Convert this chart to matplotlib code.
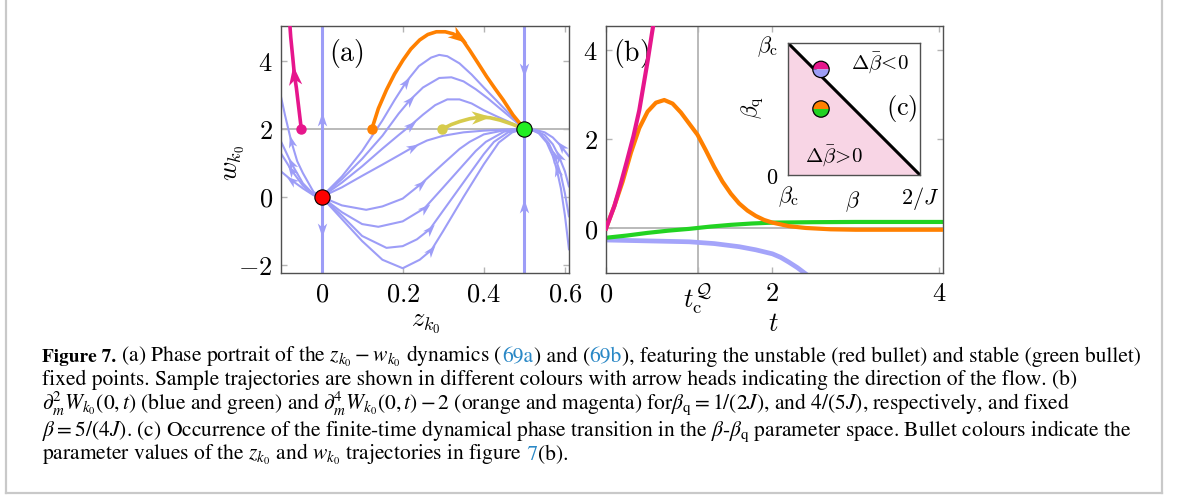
import numpy as np
import matplotlib
matplotlib.use('Agg')
import matplotlib.pyplot as plt
from matplotlib.patches import Wedge, Circle, Polygon
from matplotlib.lines import Line2D
from matplotlib.path import Path
from matplotlib.markers import MarkerStyle
from matplotlib.transforms import Affine2D

# ---- panel (a): phase portrait, curves listed in flow direction (z, w) ----
mid_curves = [
    [(0, 0), (0.05, -0.65), (0.1, -1.3), (0.15, -1.85), (0.2, -2.1), (0.242, -1.85), (0.271, -1.56),
     (0.3, -1.0), (0.35, 0.0), (0.4, 0.96), (0.437, 1.6), (0.47, 1.9), (0.5, 2.0)],
    [(0, 0), (0.05, -0.55), (0.1, -1.15), (0.16, -1.5), (0.2, -1.45), (0.235, -1.25), (0.267, -0.95),
     (0.3, -0.4), (0.35, 0.43), (0.4, 1.26), (0.425, 1.62), (0.46, 1.9), (0.5, 2.0)],
    [(0, 0), (0.05, -0.45), (0.1, -0.8), (0.14, -0.88), (0.2, -0.72), (0.254, -0.33), (0.3, 0.28),
     (0.35, 0.95), (0.38, 1.35), (0.405, 1.62), (0.45, 1.92), (0.5, 2.0)],
    [(0, 0), (0.05, -0.25), (0.11, -0.38), (0.15, -0.28), (0.2, -0.05), (0.245, 0.38), (0.3, 0.98),
     (0.34, 1.41), (0.365, 1.62), (0.4, 1.84), (0.45, 1.96), (0.5, 2.0)],
    [(0, 0), (0.05, 0.28), (0.1, 0.62), (0.15, 0.95), (0.19, 1.22), (0.225, 1.46), (0.26, 1.66),
     (0.3, 1.8), (0.35, 1.9), (0.4, 1.95), (0.45, 1.98), (0.5, 2.0)],
    [(0, 0), (0.05, 0.42), (0.1, 0.9), (0.15, 1.42), (0.19, 1.82), (0.221, 2.12), (0.25, 2.42),
     (0.28, 2.7), (0.31, 2.87), (0.34, 2.87), (0.37, 2.75), (0.4, 2.55), (0.43, 2.38), (0.46, 2.22), (0.5, 2.0)],
    [(0, 0), (0.05, 0.52), (0.1, 1.12), (0.15, 1.8), (0.19, 2.45), (0.218, 2.85), (0.25, 3.22),
     (0.29, 3.5), (0.32, 3.52), (0.35, 3.4), (0.38, 3.17), (0.41, 2.9), (0.44, 2.6), (0.47, 2.3), (0.5, 2.0)],
    [(0, 0), (0.05, 0.6), (0.1, 1.35), (0.15, 2.25), (0.18, 2.85), (0.209, 3.39), (0.24, 3.85),
     (0.27, 4.1), (0.29, 4.18), (0.31, 4.14), (0.34, 3.93), (0.37, 3.6), (0.4, 3.22), (0.43, 2.85),
     (0.46, 2.48), (0.5, 2.0)],
]
mid_arrow_idx = [6, 6, 5, 5, 5, 5, 5, 5]

left_curves = [
    [(0, 0), (-0.02, 0.15), (-0.046, 0.7), (-0.06, 1.05), (-0.075, 1.65), (-0.09, 2.4), (-0.1, 2.95)],
    [(0, 0), (-0.02, 0.08), (-0.046, 0.4), (-0.075, 1.0), (-0.1, 1.63)],
    [(0, 0), (-0.02, 0.07), (-0.046, 0.33), (-0.075, 0.8), (-0.1, 1.28)],
    [(0, 0), (-0.02, 0.05), (-0.046, 0.25), (-0.075, 0.5), (-0.1, 0.75)],
]
left_arrow_idx = [4, 3, 3, 3]

right_curves = [
    [(0.61, 1.19), (0.59, 1.5), (0.57, 1.75), (0.55, 1.9), (0.525, 1.98), (0.5, 2.0)],
    [(0.61, 0.3), (0.6, 0.75), (0.585, 1.2), (0.57, 1.55), (0.55, 1.82), (0.525, 1.96), (0.5, 2.0)],
    [(0.61, -0.58), (0.6, 0.1), (0.59, 0.65), (0.575, 1.2), (0.56, 1.58), (0.54, 1.85), (0.52, 1.97), (0.5, 2.0)],
    [(0.61, -1.55), (0.6, -0.55), (0.59, 0.25), (0.58, 0.8), (0.57, 1.2), (0.555, 1.6), (0.535, 1.88),
     (0.515, 1.98), (0.5, 2.0)],
]
right_arrow_idx = [1, 2, 3, 3]

invariant_z = [0, 0.5]
invariant_arrows = [(0, 2.3, 1), (0, -0.97, -1), (0.5, 3.73, -1), (0.5, -0.28, 1)]

magenta_a = [(-0.05, 2.0), (-0.056, 2.6), (-0.062, 3.2), (-0.067, 3.6), (-0.071, 4.1), (-0.076, 4.7), (-0.079, 5.2)]
orange_a = [(0.124, 2.0), (0.14, 2.6), (0.16, 3.15), (0.18, 3.62), (0.201, 4.03), (0.22, 4.35), (0.242, 4.62),
            (0.262, 4.78), (0.283, 4.86), (0.305, 4.86), (0.324, 4.8), (0.34, 4.7), (0.35, 4.58), (0.365, 4.32),
            (0.385, 3.95), (0.407, 3.54), (0.428, 3.18), (0.448, 2.85), (0.472, 2.41), (0.5, 2.0)]
yellow_a = [(0.298, 2.0), (0.32, 2.13), (0.341, 2.22), (0.365, 2.3), (0.392, 2.35), (0.415, 2.33),
            (0.44, 2.26), (0.47, 2.14), (0.5, 2.0)]
fixed_unstable = (0, 0)
fixed_stable = (0.5, 2)

# ---- panel (b) ----
t_c = 1.1
t_mag = [0, 0.1, 0.17, 0.25, 0.33, 0.4, 0.45, 0.5, 0.55, 0.58]
y_mag = [0, 0.5, 0.95, 1.5, 2.07, 2.65, 3.2, 3.75, 4.35, 4.7]
t_ora = [0, 0.1, 0.2, 0.3, 0.4, 0.5, 0.6, 0.7, 0.8, 0.9, 1.0, 1.1, 1.2, 1.3, 1.4, 1.5, 1.6, 1.7, 1.8,
         1.9, 2.0, 2.2, 2.4, 2.7, 3.0, 3.5, 4.1]
y_ora = [0, 0.5, 1.05, 1.7, 2.25, 2.62, 2.82, 2.88, 2.8, 2.6, 2.35, 2.1, 1.75, 1.38, 1.05, 0.78, 0.56,
         0.4, 0.28, 0.19, 0.13, 0.05, 0.01, -0.02, -0.03, -0.03, -0.03]
t_gre = [0, 0.25, 0.5, 0.75, 1.0, 1.25, 1.5, 1.75, 2.0, 2.5, 3.0, 4.1]
y_gre = [-0.21, -0.16, -0.1, -0.05, -0.01, 0.04, 0.08, 0.11, 0.13, 0.14, 0.145, 0.145]
t_blu = [0, 0.5, 1.0, 1.3, 1.6, 1.8, 2.0, 2.1, 2.2, 2.3, 2.4]
y_blu = [-0.26, -0.28, -0.3, -0.34, -0.41, -0.48, -0.57, -0.65, -0.76, -0.88, -1.02]

# ---- panel (c): beta in units of 1/J, beta_c = 1 ----
beta_c = 1.0
beta_max = 2.0
beta_fixed = 1.25
beta_q_vals = [0.8, 0.5]
bullet_colors = [('#e6168c', '#9d9df7'), ('#ff8000', '#22d322')]

BLUE = '#9d9df7'
MAG = '#e6168c'
ORA = '#ff8000'
GRE = '#22d322'
YEL = '#d6cb4c'
GRID = '#b4b4b4'

plt.rcParams['mathtext.fontset'] = 'cm'
plt.rcParams['font.family'] = 'serif'

W, H = 1179, 501
fig = plt.figure(figsize=(W / 100, H / 100), dpi=100)

FS = 19

# stealth-like arrow head, pointing along +x
STEALTH = Path([(0.5, 0), (-0.5, 0.34), (-0.22, 0), (-0.5, -0.34), (0.5, 0)],
               [Path.MOVETO, Path.LINETO, Path.LINETO, Path.LINETO, Path.CLOSEPOLY])


def style_axes(ax):
    for s in ax.spines.values():
        s.set_color('#505050')
        s.set_linewidth(1.0)
    ax.tick_params(direction='in', length=4, width=1, color=GRID, top=True, right=True,
                   labelsize=FS, pad=6)


def arrow(ax, p0, p1, at, color, size):
    a = ax.transData.transform(p0)
    b = ax.transData.transform(p1)
    ang = np.degrees(np.arctan2(b[1] - a[1], b[0] - a[0]))
    m = MarkerStyle(STEALTH, transform=Affine2D().rotate_deg(ang))
    ax.plot([at[0]], [at[1]], marker=m, ms=size, color=color, mew=0, ls='none', zorder=5)


def curve(ax, pts, color, lw, idx, size, z=2):
    zs = [p[0] for p in pts]
    ws = [p[1] for p in pts]
    ax.plot(zs, ws, color=color, lw=lw, solid_capstyle='round', zorder=z)
    arrow(ax, pts[idx - 1], pts[min(idx + 1, len(pts) - 1)], pts[idx], color, size)


# panel (a)
axa = fig.add_axes([281 / W, 1 - 273 / H, 288 / W, 247 / H])
style_axes(axa)
axa.set_xlim(-0.1, 0.61)
axa.set_ylim(-2.24, 5.03)
axa.axhline(2, color=GRID, lw=1.3, zorder=1)
for zv in invariant_z:
    axa.axvline(zv, color=BLUE, lw=2.2, zorder=2)
for zv, wv, d in invariant_arrows:
    arrow(axa, (zv, wv - d), (zv, wv), (zv, wv), BLUE, 10)
for pts, i in zip(mid_curves, mid_arrow_idx):
    curve(axa, pts, BLUE, 1.5, i, 9)
for pts, i in zip(left_curves, left_arrow_idx):
    curve(axa, pts, BLUE, 1.5, i, 9)
for pts, i in zip(right_curves, right_arrow_idx):
    curve(axa, pts, BLUE, 1.5, i, 9)
curve(axa, yellow_a, YEL, 2.6, 4, 14, z=3)
curve(axa, orange_a, ORA, 2.6, 11, 14, z=3)
curve(axa, magenta_a, MAG, 2.6, 3, 14, z=3)
for pts, c in [(magenta_a, MAG), (orange_a, ORA), (yellow_a, YEL)]:
    axa.plot(*pts[0], 'o', color=c, ms=6.5, zorder=4)
axa.plot(*fixed_unstable, 'o', color='red', mec='black', mew=0.8, ms=11, zorder=6)
axa.plot(*fixed_stable, 'o', color='#22ee22', mec='black', mew=0.8, ms=11, zorder=6)
axa.set_xticks([0, 0.2, 0.4, 0.6])
axa.set_xticklabels(['$0$', '$0.2$', '$0.4$', '$0.6$'])
axa.set_yticks([-2, 0, 2, 4])
axa.set_yticklabels(['$-2$', '$0$', '$2$', '$4$'])
axa.set_xlabel('$z_{k_0}$', fontsize=FS)
axa.xaxis.set_label_coords(0.503, -0.155)
axa.set_ylabel('$w_{k_0}$', fontsize=FS)
axa.yaxis.set_label_coords(-0.118, 0.445)
axa.text(0.165, 0.955, r'$\mathrm{(a)}$', transform=axa.transAxes, fontsize=FS + 1, va='top', ha='left')

# panel (b)
axb = fig.add_axes([606 / W, 1 - 273 / H, 337 / W, 247 / H])
style_axes(axb)
axb.set_xlim(0, 4.05)
axb.set_ylim(-1.0, 4.54)
axb.axhline(0, color=GRID, lw=1.3, zorder=1)
axb.axvline(t_c, color=GRID, lw=1.3, zorder=1)
axb.plot(t_blu, y_blu, color='#a4a4fa', lw=3.4, zorder=2)
axb.plot(t_gre, y_gre, color=GRE, lw=3.0, zorder=2)
axb.plot(t_ora, y_ora, color=ORA, lw=3.0, zorder=3)
axb.plot(t_mag, y_mag, color=MAG, lw=3.0, zorder=4)
axb.set_xticks([0, t_c, 2, 4])
axb.set_xticklabels(['$0$', r'$t_\mathrm{c}^{\mathcal{Q}}$', '$2$', '$4$'])
axb.set_yticks([0, 2, 4])
axb.set_yticklabels(['$0$', '$2$', '$4$'])
axb.set_xlabel('$t$', fontsize=FS)
axb.xaxis.set_label_coords(0.496, -0.155)
axb.text(0.02, 0.955, r'$\mathrm{(b)}$', transform=axb.transAxes, fontsize=FS + 1, va='top', ha='left')

# inset (c)
axc = fig.add_axes([788 / W, 1 - 175 / H, 132 / W, 132 / H])
for s in axc.spines.values():
    s.set_color('#505050')
    s.set_linewidth(1.0)
axc.set_xlim(beta_c, beta_max)
axc.set_ylim(0, beta_c)
axc.add_patch(Polygon([(beta_c, 0), (beta_c, beta_c), (beta_max, 0)], closed=True,
                      facecolor='#f8d5e5', edgecolor='none', zorder=1))
axc.plot([beta_c, beta_max], [beta_c, 0], color='black', lw=2.2, zorder=2)
r = 0.062
for bq, (ctop, cbot) in zip(beta_q_vals, bullet_colors):
    axc.add_patch(Wedge((beta_fixed, bq), r, 0, 180, facecolor=ctop, edgecolor='none', zorder=3))
    axc.add_patch(Wedge((beta_fixed, bq), r, 180, 360, facecolor=cbot, edgecolor='none', zorder=3))
    axc.add_patch(Circle((beta_fixed, bq), r, facecolor='none', edgecolor='black', lw=0.9, zorder=4))
axc.set_xticks([beta_c, beta_max])
axc.set_xticklabels([r'$\beta_\mathrm{c}$', '$2/J$'])
axc.set_yticks([0, beta_c])
axc.set_yticklabels(['$0$', r'$\beta_\mathrm{c}$'])
axc.tick_params(length=0, labelsize=16, pad=7)
axc.text(0.49, -0.2, r'$\beta$', transform=axc.transAxes, fontsize=16, ha='center', va='center')
axc.text(-0.27, 0.51, r'$\beta_\mathrm{q}$', transform=axc.transAxes, fontsize=16, ha='center',
         va='center', rotation=90)
axc.text(0.70, 0.85, r'$\Delta\bar{\beta}\!<\!0$', transform=axc.transAxes, fontsize=15, ha='center', va='center')
axc.text(0.35, 0.15, r'$\Delta\bar{\beta}\!>\!0$', transform=axc.transAxes, fontsize=15, ha='center', va='center')
axc.text(0.86, 0.50, r'$\mathrm{(c)}$', transform=axc.transAxes, fontsize=FS, ha='center', va='center')

# ---- caption ----
LINK = '#2a88c6'
CFS = 15.5
cap_font = dict(family='STIXGeneral', math_fontfamily='stix', fontsize=CFS)
caption_lines = [
    [('Figure 7.', 'b'), (' (a) Phase portrait of the $z_{k_0} - w_{k_0}$ dynamics (', 'n'), ('69a', 'l'),
     (') and (', 'n'), ('69b', 'l'), ('), featuring the unstable (red bullet) and stable (green bullet)', 'n')],
    [('fixed points. Sample trajectories are shown in different colours with arrow heads indicating the '
      'direction of the flow. (b)', 'n')],
    [(r'$\partial_m^2 W_{k_0}(0,t)$ (blue and green) and $\partial_m^4 W_{k_0}(0,t) - 2$ (orange and magenta) '
      r'for$\beta_\mathrm{q} = 1/(2J)$, and $4/(5J)$, respectively, and fixed', 'n')],
    [(r'$\beta = 5/(4J)$. (c) Occurrence of the finite-time dynamical phase transition in the '
      r'$\beta$-$\beta_\mathrm{q}$ parameter space. Bullet colours indicate the', 'n')],
    [('parameter values of the $z_{k_0}$ and $w_{k_0}$ trajectories in figure', 'n'), (' 7', 'l'), ('(b).', 'n')],
]
baselines = [362, 385, 409, 436, 460]

renderer = fig.canvas.get_renderer()
for runs, yb in zip(caption_lines, baselines):
    x = 42
    for txt, kind in runs:
        kw = dict(cap_font)
        if kind == 'b':
            kw['weight'] = 'bold'
            kw['fontsize'] = CFS * 0.9
        if kind == 'l':
            kw['color'] = LINK
        t = fig.text(x / W, 1 - yb / H, txt, va='baseline', ha='left', **kw)
        x += t.get_window_extent(renderer=renderer).width

# frame around the figure block
frame = dict(color='#c9c9c9', lw=1.6, transform=fig.transFigure)
fig.add_artist(Line2D([6 / W, 6 / W], [1, 1 - 493 / H], **frame))
fig.add_artist(Line2D([1162 / W, 1162 / W], [1, 1 - 493 / H], **frame))
fig.add_artist(Line2D([6 / W, 1162 / W], [1 - 493 / H, 1 - 493 / H], **frame))

fig.savefig('out.png', dpi=100)
